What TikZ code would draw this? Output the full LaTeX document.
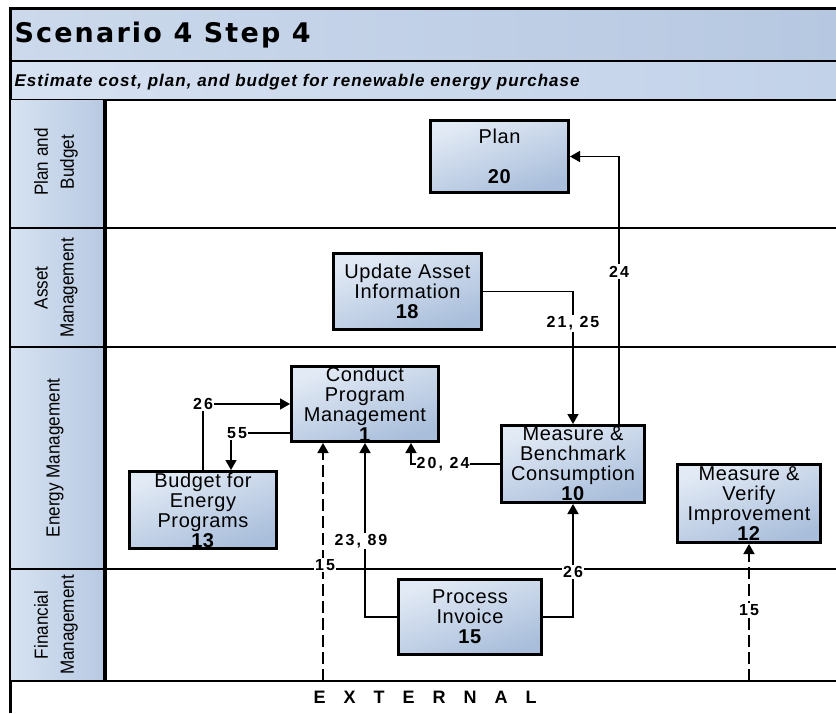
\documentclass[tikz,border=0pt]{standalone}
\usepackage{fontspec}
\setmainfont{Liberation Sans}
\newfontfamily\spfont[LetterSpace=3]{Liberation Sans}
\newfontfamily\lblfont[LetterSpace=13]{Liberation Sans}
\newfontfamily\ttlfont[LetterSpace=8]{DejaVu Sans}
\newfontfamily\subfont[LetterSpace=6]{Liberation Sans}
\newfontfamily\lanefont[FakeStretch=0.9]{Liberation Sans}
\usetikzlibrary{arrows.meta}
\definecolor{hdrA}{HTML}{D6E2F1}
\definecolor{hdrB}{HTML}{B7C9E2}
\definecolor{boxA}{HTML}{E2EAF5}
\definecolor{boxB}{HTML}{A9BEDB}
\definecolor{ttlA}{HTML}{CCD9EC}
\definecolor{ttlB}{HTML}{B6C8E1}
\definecolor{subA}{HTML}{D6E1F1}
\definecolor{subB}{HTML}{C2D2E9}
\newcommand{\extgap}{\hspace{18pt}}
\tikzset{
  proc/.style={draw=black, line width=3pt, top color=boxA, bottom color=boxB, shading angle=20,
    align=center, inner sep=0pt, font=\spfont\fontsize{20}{20}\selectfont},
  lanetxt/.style={rotate=90, align=center, font=\lanefont\fontsize{19}{26}\selectfont},
  lbl/.style={fill=white, inner sep=1.5pt, font=\lblfont\bfseries\fontsize{16}{16}\selectfont},
  arr/.style={-{Triangle[length=10pt,width=11pt]}, line width=1.5pt},
  dsh/.style={dash pattern=on 12pt off 5pt},
  lane/.style={line width=2.5pt},
}
\begin{document}
\begin{tikzpicture}[x=1pt,y=-1pt]
\useasboundingbox (0,0) rectangle (836,713);
% title and subtitle bars
\fill[left color=ttlA, right color=ttlB] (10,8) rectangle (836,61);
\fill[left color=subA, right color=subB] (10,61) rectangle (836,100);
\draw[line width=3pt] (836,8) -- (10,8) -- (10,713);
\draw[line width=2.5pt] (10,61) -- (836,61);
\draw[lane] (10,100) -- (836,100);
\node[anchor=west, font=\ttlfont\bfseries\fontsize{27}{27}\selectfont] (title) at (11,35) {Scenario 4 Step 4};
\node[anchor=west, font=\subfont\bfseries\itshape\fontsize{17}{17}\selectfont] (subtitle) at (11,82) {Estimate cost, plan, and budget for renewable energy purchase};
% lane headers
\fill[left color=hdrA, right color=hdrB] (11,100) rectangle (105,681);
\foreach \yy in {228,347,569,681} \draw[lane] (10,\yy) -- (836,\yy);
\draw[line width=4pt] (105,100) -- (105,681);
\node[lanetxt] (l1) at (56,162) {Plan and\\Budget};
\node[lanetxt] (l2) at (56,288) {Asset\\Management};
\node[lanetxt] (l3) at (55,458) {Energy Management};
\node[lanetxt] (l4) at (56,625) {Financial\\Management};
\node[font=\bfseries\fontsize{18}{18}\selectfont] (ext) at (425,697) {E\extgap X\extgap T\extgap E\extgap R\extgap N\extgap A\extgap L};
% process boxes
\node[proc, minimum width=138, minimum height=72] (plan) at (499.5,156.5) {Plan\\[20pt]\textbf{20}};
\node[proc, minimum width=148, minimum height=76] (upd) at (407.5,291.5) {Update Asset\\Information\\\textbf{18}};
\node[proc, minimum width=147, minimum height=75] (cpm) at (365,404) {Conduct\\Program\\Management\\\textbf{1}};
\node[proc, minimum width=147, minimum height=77] (bud) at (203,510) {Budget for\\Energy\\Programs\\\textbf{13}};
\node[proc, minimum width=143, minimum height=77] (mbc) at (573,464) {Measure \&\\Benchmark\\Consumption\\\textbf{10}};
\node[proc, minimum width=143, minimum height=78] (mvi) at (749,503.5) {Measure \&\\Verify\\Improvement\\\textbf{12}};
\node[proc, minimum width=143, minimum height=75] (inv) at (470,617) {Process\\Invoice\\\textbf{15}};
\coordinate (ext1) at (323,681);
\coordinate (ext2) at (749,681);
% connectors
\draw[arr] ([xshift=46pt]mbc.north) |- node[lbl, pos=0.285]{24} (plan.east);
\draw[arr] (upd.east) -| node[lbl, pos=0.62]{21, 25} (mbc.north);
\draw[arr] (bud.north) |- node[lbl, pos=0.5]{26} (cpm.west);
\draw[arr] ([yshift=10pt]cpm.south west) -| node[lbl, pos=0.5, xshift=6pt]{55} ([xshift=28pt]bud.north);
\draw[arr] (mbc.west) -| node[lbl, pos=0.32, inner sep=1pt]{20, 24} ([xshift=46pt]cpm.south);
\draw[arr, dsh] (ext1) -- node[lbl, pos=0.487, xshift=2pt]{15} ([xshift=-42pt]cpm.south);
\draw[arr] (inv.west) -| node[lbl, pos=0.718, xshift=-4pt]{23, 89} (cpm.south);
\draw[arr] (inv.east) -| node[lbl, pos=0.70]{26} (mbc.south);
\draw[arr, dsh] (ext2) -- node[lbl, pos=0.52]{15} (mvi.south);
\end{tikzpicture}
\end{document}
